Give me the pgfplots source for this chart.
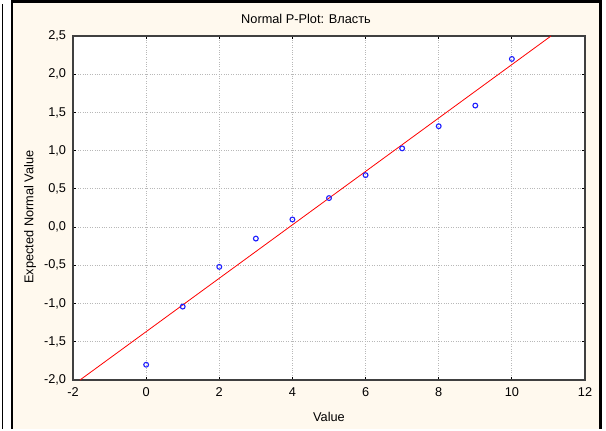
\documentclass[border=0pt]{standalone}
\usepackage{fontspec}
\setmainfont{Liberation Sans}
\usepackage{pgfplots}
\pgfplotsset{compat=1.18}
\definecolor{cream}{RGB}{255,249,238}
\definecolor{framegray}{RGB}{64,64,64}
\definecolor{ptblue}{RGB}{30,30,255}
\begin{document}
\fontsize{12.8}{14}\selectfont
\begin{tikzpicture}[x=1bp,y=1bp]
\fill[white] (0,0) rectangle (606,429);
\fill[cream] (12,0) rectangle (600,428);
\draw[line width=1bp] (2.5,0) -- (2.5,425);
\draw[line width=2.6bp] (12,0) -- (12,427.7) -- (600.7,427.7) -- (600.7,0);
\begin{axis}[at={(73bp,49bp)}, anchor=south west, scale only axis,
  width=512bp, height=344bp,
  xmin=-2, xmax=12, ymin=-2, ymax=2.5,
  xtick={-2,0,2,4,6,8,10,12},
  ytick={-2,-1.5,-1,-0.5,0,0.5,1,1.5,2,2.5},
  axis background/.style={fill=white},
  axis line style={draw=framegray, line width=1.3bp},
  grid=major,
  major grid style={dotted, black!28, line width=0.8bp},
  tick style={black, line width=0.8bp},
  tick align=inside, major tick length=3bp,
  /pgf/number format/assume math mode=true,
  xticklabel style={yshift=-3.5bp},
  yticklabel style={/pgf/number format/fixed, /pgf/number format/fixed zerofill,
    /pgf/number format/precision=1, /pgf/number format/use comma, xshift=-2.5bp},
  clip=true,
]
\addplot[red, line width=0.8bp] coordinates {(-1.81,-2) (11.07,2.5)};
\addplot[only marks, mark=o, mark size=2.4bp, ptblue, mark options={line width=1.1bp}]
  coordinates {(0,-1.80) (1,-1.04) (2,-0.52) (3,-0.15) (4,0.10) (5,0.38) (6,0.68) (7,1.03) (8,1.32) (9,1.59) (10,2.20)};
\end{axis}
\node at (306,410) {Normal P-Plot: Власть};
\node at (329,12.5) {Value};
\node[rotate=90] at (30,212) {Expected Normal Value};
\end{tikzpicture}
\end{document}
